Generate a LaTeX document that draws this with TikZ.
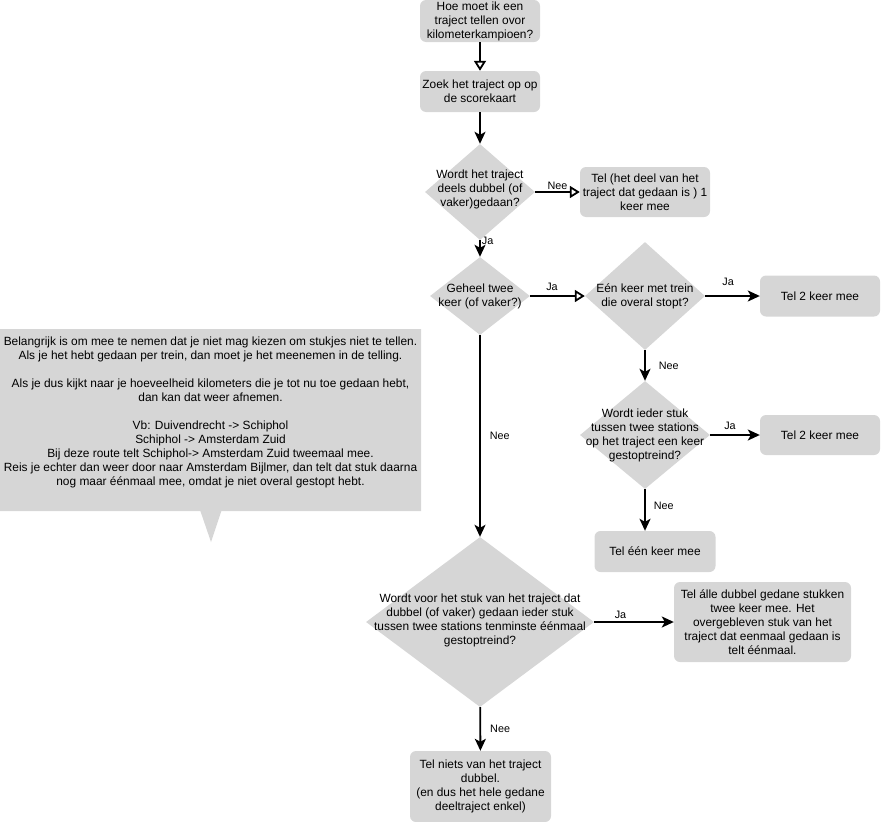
\documentclass[tikz,border=0pt]{standalone}
\usepackage{fontspec}
\setmainfont{Liberation Sans}
\usetikzlibrary{arrows.meta, shapes, positioning}
\definecolor{boxgray}{RGB}{214,214,214}

\begin{document}
\begin{tikzpicture}[x=1pt,y=-1pt,
 box/.style={fill=boxgray,rounded corners=6pt,align=center,inner sep=0pt,font=\fontsize{11.9}{14}\selectfont},
 dec/.style={diamond,fill=boxgray,inner sep=0pt},
 txt/.style={align=center,inner sep=0pt,font=\fontsize{11.9}{14}\selectfont},
 lbl/.style={inner sep=1pt,font=\fontsize{10.8}{12}\selectfont},
 line/.style={draw,line width=1.8pt,-{Stealth[length=12pt,width=11pt,inset=3pt]}},
 lineopen/.style={draw,line width=1.8pt,-{Triangle[open,length=10pt,width=12pt]}}]
 \useasboundingbox (0,0) rectangle (881,822);

 \node[box, minimum width=120, minimum height=42] (start) at (480,21) {Hoe moet ik een\\traject tellen ovor\\kilometerkampioen?};
 \node[box, minimum width=120, minimum height=41] (find) at (480,91.5) {Zoek het traject op op\\de scorekaart};

 \node[dec, minimum width=110, minimum height=96,
  label={[txt,yshift=3pt]center:{Wordt het traject\\deels dubbel (of\\vaker)gedaan?}}] (d1) at (480,192) {};
 \node[box, minimum width=130, minimum height=50] (once) at (645,192) {Tel (het deel van het\\traject dat gedaan is ) 1\\keer mee};

 \node[dec, minimum width=100, minimum height=78,
  label={[txt]center:{Geheel twee\\keer (of vaker?)}}] (d2) at (480,296) {};
 \node[dec, minimum width=120, minimum height=108,
  label={[txt]center:{Eén keer met trein\\die overal stopt?}}] (d3) at (645,296) {};
 \node[box, minimum width=120, minimum height=41] (two1) at (820,296) {Tel 2 keer mee};

 \node[dec, minimum width=130, minimum height=108,
  label={[txt]center:{Wordt ieder stuk\\tussen twee stations\\op het traject een keer\\gestoptreind?}}] (d4) at (645,435) {};
 \node[box, minimum width=120, minimum height=40] (two2) at (820,435) {Tel 2 keer mee};
 \node[box, minimum width=121, minimum height=41] (one) at (655,551.5) {Tel één keer mee};

 \node[dec, minimum width=228, minimum height=170,
  label={[txt,yshift=1.5pt]center:{Wordt voor het stuk van het traject dat\\dubbel (of vaker) gedaan ieder stuk\\tussen twee stations tenminste éénmaal\\gestoptreind?}}] (d5) at (480,622) {};
 \node[box, minimum width=177, minimum height=80] (all) at (762.5,622) {Tel álle dubbel gedane stukken\\twee keer mee. Het\\overgebleven stuk van het\\traject dat eenmaal gedaan is\\telt éénmaal.};
 \node[box, minimum width=141, minimum height=71] (none) at (480.5,786.5) {Tel niets van het traject\\dubbel.\\(en dus het hele gedane\\deeltraject enkel)};

 % toelichting
 \node[rectangle callout, fill=boxgray, txt, minimum width=421, minimum height=182,
  callout absolute pointer={(211,542)}, callout pointer width=21pt] (note) at (210.5,420)
  {Belangrijk is om mee te nemen dat je niet mag kiezen om stukjes niet te tellen.\\
   Als je het hebt gedaan per trein, dan moet je het meenemen in de telling.\\
   \strut\\
   Als je dus kijkt naar je hoeveelheid kilometers die je tot nu toe gedaan hebt,\\
   dan kan dat weer afnemen.\\
   \strut\\
   Vb: Duivendrecht -> Schiphol\\
   Schiphol -> Amsterdam Zuid\\
   Bij deze route telt Schiphol-> Amsterdam Zuid tweemaal mee.\\
   Reis je echter dan weer door naar Amsterdam Bijlmer, dan telt dat stuk daarna\\
   nog maar éénmaal mee, omdat je niet overal gestopt hebt.\\
   \strut};

 \draw[lineopen] (start) -- (find);
 \draw[line] (find) -- (d1);
 \draw[lineopen] (d1) -- node[lbl,above,pos=0.5]{Nee} (once);
 \draw[line] (d1) -- node[lbl,anchor=west,pos=0.05]{Ja} (d2);
 \draw[lineopen] (d2) -- node[lbl,above=3pt,pos=0.4]{Ja} (d3);
 \draw[line] (d3) -- node[lbl,above=8pt,pos=0.42]{Ja} (two1);
 \draw[line] (d3) -- node[lbl,right=12pt]{Nee} (d4);
 \draw[line] (d4) -- node[lbl,above=4pt,pos=0.4]{Ja} (two2);
 \draw[line] (d4.south) -- node[lbl,right=7pt,pos=0.4]{Nee} (d4.south |- one.north);
 \draw[line] (d2) -- node[lbl,right=8pt]{Nee} (d5);
 \draw[line] (d5) -- node[lbl,above=2pt,pos=0.33]{Ja} (all);
 \draw[line] (d5) -- node[lbl,right=8pt]{Nee} (none);
\end{tikzpicture}
\end{document}
